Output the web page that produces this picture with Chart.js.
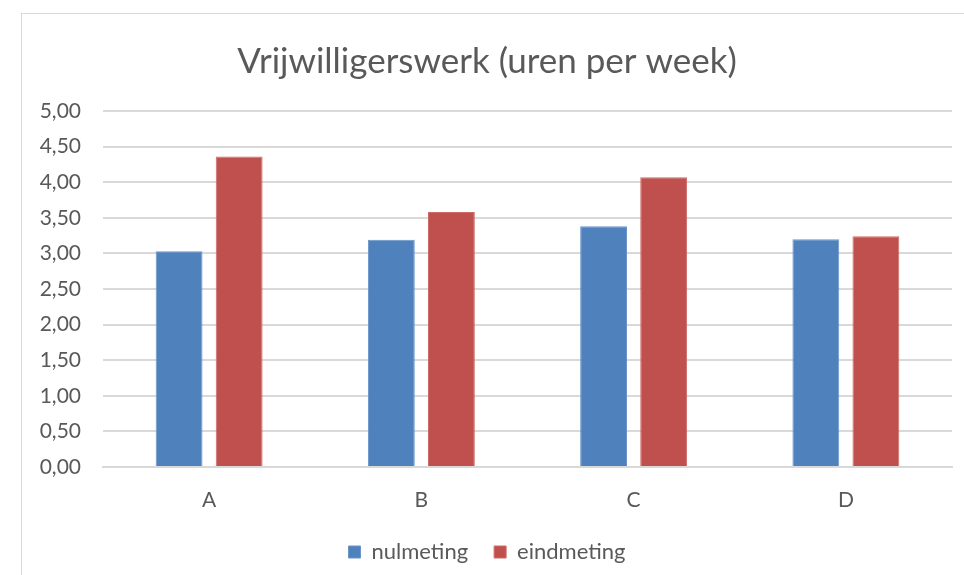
<!DOCTYPE html>
<html>
<head>
<meta charset="utf-8">
<script src="https://cdn.jsdelivr.net/npm/chart.js@4"></script>
<style>
  body { margin: 0; background: #fff; }
  #frame {
    position: absolute; left: 21px; top: 13px;
    width: 942px; height: 561px;
    border-left: 1px solid #d9d9d9; border-top: 1px solid #d9d9d9;
  }
</style>
</head>
<body>
<div id="frame"><canvas id="myChart" width="942" height="561"></canvas></div>
<script>
const categorieen = ['A', 'B', 'C', 'D'];
const nulmeting   = [3.03, 3.19, 3.38, 3.20];
const eindmeting  = [4.36, 3.58, 4.07, 3.24];
const yTicks      = [0, 0.5, 1, 1.5, 2, 2.5, 3, 3.5, 4, 4.5, 5];

const TEXT = '#595959';
const FONT = 'Lato';

let ctx = document.getElementById('myChart').getContext('2d');

let chart = new Chart(ctx, {
    type: 'bar',
    data: {
        labels: categorieen,
        datasets: [{
            label: 'nulmeting',
            data: nulmeting,
            backgroundColor: '#4f81bd',
            borderColor: '#6a95c9',
            borderWidth: 1
        }, {
            label: 'eindmeting',
            data: eindmeting,
            backgroundColor: '#c0504d',
            borderColor: '#cc6c69',
            borderWidth: 1
        }]
    },
    options: {
        responsive: false,
        animation: false,
        categoryPercentage: 0.566,
        barPercentage: 0.78,
        layout: { padding: { left: 0, right: 12, top: 0, bottom: 2 } },
        plugins: {
            title: {
                display: true,
                text: 'Vrijwilligerswerk (uren per week)',
                color: TEXT,
                font: { family: FONT, size: 35, weight: 'normal' },
                padding: { top: 27, bottom: 28 }
            },
            legend: {
                position: 'bottom',
                maxHeight: 64,
                labels: {
                    color: TEXT,
                    font: { family: FONT, size: 22 },
                    boxWidth: 12,
                    boxHeight: 12,
                    padding: 26
                }
            },
            tooltip: { enabled: false }
        },
        scales: {
            x: {
                grid: { display: false },
                border: { color: '#d9d9d9', width: 2 },
                ticks: { color: TEXT, font: { family: FONT, size: 21 }, padding: 13 },
                afterFit: (s) => { s.height = 48; }
            },
            y: {
                min: 0,
                max: 5,
                afterBuildTicks: (s) => { s.ticks = yTicks.map(v => ({ value: v })); },
                grid: { color: '#d9d9d9', lineWidth: 2, drawTicks: false },
                border: { display: false },
                ticks: {
                    color: TEXT,
                    font: { family: FONT, size: 21 },
                    padding: 22,
                    callback: (v) => v.toFixed(2).replace('.', ',')
                },
                afterFit: (s) => { s.width = 81; }
            }
        }
    }
});
</script>
</body>
</html>
